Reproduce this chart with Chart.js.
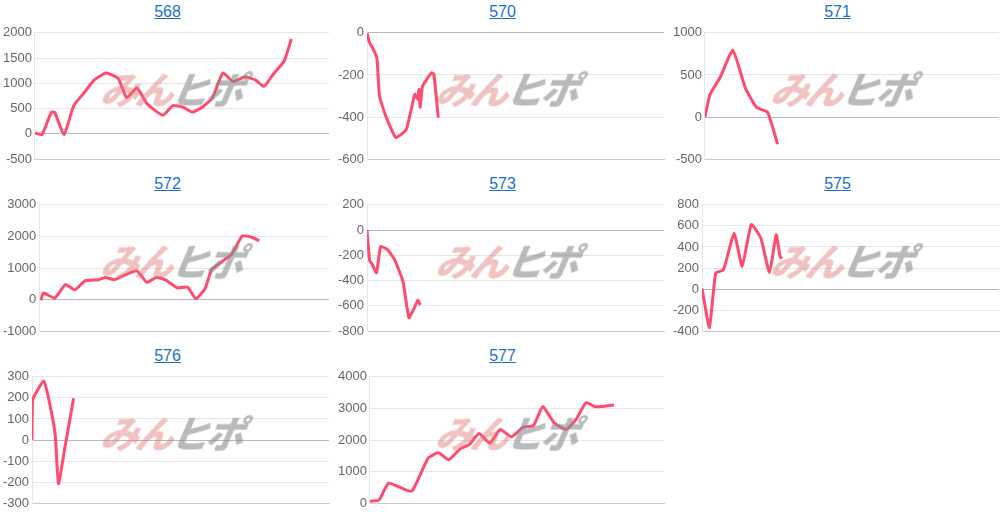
<!DOCTYPE html>
<html>
<head>
<meta charset="utf-8">
<script src="https://cdn.jsdelivr.net/npm/chart.js@4"></script>
<style>
body { margin: 0; background: #fff; font-family: Arial, "Liberation Sans", sans-serif; }
#grid { display: grid; grid-template-columns: 335px 335px 335px; grid-auto-rows: 172px; width: 1006px; }
.cell { position: relative; }
.cell a { display: block; text-align: center; color: #1a6fd0; font-size: 16px; height: 22px; line-height: 24px; text-decoration: underline; }
.cell .box { position: relative; height: 148px; }
.mark { position: absolute; left: 102px; top: 38px; font: italic 900 38px "Noto Sans CJK JP", sans-serif; letter-spacing: -3px; pointer-events: none; transform: skewX(-10deg); }
.mark .a { color: rgba(222, 120, 120, 0.45); }
.mark .b { color: rgba(140, 140, 140, 0.6); }
</style>
</head>
<body>
<div id="grid"></div>
<script>
// each series: x as % of the run, y as value
const titles = ['568', '570', '571', '572', '573', '575', '576', '577'];

const x568 = [0, 2.4, 5.6, 6.8, 9.9, 13.2, 16.7, 20.2, 24.2, 28.3, 31.2, 34.7, 38.2, 43.5, 46.9, 50.5, 53.4, 56.9, 60.4, 63.9, 67.4, 71.4, 75, 77.9, 80.8, 84.8, 87.2];
const y568 = [19, -13, 432, 419, -13, 559, 813, 1067, 1206, 1098, 717, 908, 590, 368, 559, 527, 432, 527, 717, 1206, 1035, 1130, 1067, 940, 1162, 1448, 1879];
const x570 = [0, 0.7, 2.1, 3.3, 4.2, 6.2, 9.7, 13.2, 16.1, 17.1, 17.5, 17.9, 18.7, 21.7, 22.5, 24.0];
const y570 = [0, -41, -79, -117, -300, -391, -497, -459, -292, -315, -269, -353, -254, -190, -196, -403];
const x571 = [0, 1.7, 5.2, 9.5, 13.8, 17.6, 21.3, 24.7];
const y571 = [0, 264, 472, 792, 340, 113, 57, -321];
const x572 = [0.6, 1.4, 5.4, 9.0, 12.3, 15.9, 20.5, 22.9, 25.9, 29.5, 33.7, 37.1, 40.4, 43.4, 47.6, 51.2, 54.0, 57.2, 59.6, 66.3, 70.1, 73.5, 75.9];
const y572 = [-21, 207, 52, 476, 310, 600, 631, 703, 631, 776, 910, 548, 703, 631, 372, 393, 31, 341, 962, 1427, 2016, 1965, 1861];
const x573 = [0, 0.9, 1.7, 3.2, 4.6, 6.9, 9.2, 12.1, 14.1, 15.9, 17.1, 17.9];
const y573 = [0, -243, -268, -338, -130, -155, -230, -405, -693, -618, -555, -593];
const x575 = [0, 2.5, 4.6, 7.2, 10.8, 13.5, 16.6, 19.8, 22.7, 25.0, 26.2, 26.8];
const y575 = [6, -364, 152, 182, 530, 218, 612, 485, 158, 515, 318, 288];
const x576 = [0, 0.2, 4.0, 5.7, 7.8, 8.9, 10.9, 14.0];
const y576 = [0, 190, 280, 190, 25, -207, -50, 198];
const x577 = [0, 3.1, 6.3, 10.6, 14.3, 19.8, 23.3, 26.8, 30.8, 33.7, 37.1, 40.8, 44.3, 48.1, 52.1, 55.6, 58.8, 62.5, 66.6, 70.0, 73.5, 76.4, 78.7, 83.0];
const y577 = [61, 101, 636, 485, 384, 1424, 1596, 1374, 1727, 1848, 2202, 1899, 2333, 2101, 2404, 2455, 3061, 2556, 2333, 2636, 3182, 3061, 3061, 3111];

const xs = [x568, x570, x571, x572, x573, x575, x576, x577];
const ys = [y568, y570, y571, y572, y573, y575, y576, y577];
const yMin = [-500, -600, -500, -1000, -800, -400, -300, 0];
const yMax = [2000, 0, 1000, 3000, 200, 800, 300, 4000];
const yStep = [500, 200, 500, 1000, 200, 200, 100, 1000];

const grid = document.getElementById('grid');

titles.forEach((t, i) => {
    const cell = document.createElement('div');
    cell.className = 'cell';
    cell.innerHTML = `<a href="#">${t}</a><div class="box"><canvas></canvas><div class="mark"><span class="a">みん</span><span class="b">ヒポ</span></div></div>`;
    grid.appendChild(cell);

    const ctx = cell.querySelector('canvas');
    const points = xs[i].map((x, k) => ({ x: x, y: ys[i][k] }));

    new Chart(ctx, {
        type: 'line',
        data: {
            datasets: [{
                data: points,
                borderColor: '#ff4b6e',
                borderWidth: 3,
                pointRadius: 0,
                tension: 0.15,
                fill: false
            }]
        },
        options: {
            responsive: true,
            maintainAspectRatio: false,
            animation: false,
            layout: { padding: { top: 6, right: 6, bottom: 2 } },
            plugins: { legend: { display: false }, tooltip: { enabled: false } },
            scales: {
                x: {
                    type: 'linear',
                    min: 0,
                    max: 100,
                    ticks: { display: false },
                    grid: { display: false },
                    border: { color: '#ccc' }
                },
                y: {
                    min: yMin[i],
                    max: yMax[i],
                    ticks: {
                        stepSize: yStep[i],
                        color: '#666',
                        font: { size: 13 },
                        callback: v => String(v)
                    },
                    grid: {
                        color: c => c.tick.value === 0 ? '#b8b8b8' : '#e6e6e6',
                        drawTicks: false
                    },
                    border: { color: '#e6e6e6' }
                }
            }
        }
    });
});
</script>
</body>
</html>
